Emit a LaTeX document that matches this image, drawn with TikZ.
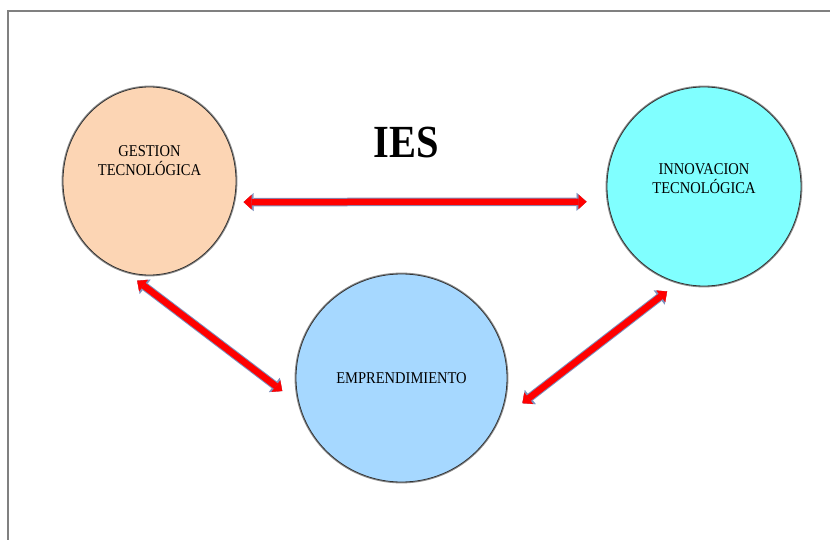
\documentclass[tikz,border=0pt]{standalone}
\usepackage{fontspec}
\setmainfont{Liberation Serif}[FakeStretch=0.88]
\usetikzlibrary{shapes.geometric,arrows.meta}
\definecolor{gestionfill}{RGB}{252,213,180}
\definecolor{innovacionfill}{RGB}{128,255,255}
\definecolor{emprefill}{RGB}{166,216,255}
\definecolor{arrowedge}{RGB}{125,145,190}
\definecolor{framegray}{RGB}{128,128,128}
\tikzset{
    ies circle/.style={
        ellipse,
        draw=black!80,
        line width=0.8pt,
        inner sep=0pt,
        preaction={draw=black!45, line width=2.8pt}
    },
    ies label/.style={font=\fontsize{16.5}{19}\selectfont, text=black, align=center},
    ies title/.style={font=\fontsize{46}{46}\selectfont\bfseries, text=black},
    ies arrow/.style={
        draw=red,
        line width=6.5pt,
        {Triangle[length=8pt,width=14.5pt,line width=0.2pt]}-{Triangle[length=8pt,width=14.5pt,line width=0.2pt]},
        preaction={draw=arrowedge, line width=8.5pt,
            {Triangle[length=10pt,width=18pt,line width=0.2pt]}-{Triangle[length=10pt,width=18pt,line width=0.2pt]}}
    }
}
\begin{document}
\begin{tikzpicture}[x=1pt, y=-1pt]

\useasboundingbox (0,0) rectangle (830,540);

% frame of the slide
\draw[framegray, line width=1.5pt] (8,540) -- (8,11) -- (830,11);

% the three circles
\node[ies circle, fill=gestionfill, minimum width=173pt, minimum height=188pt,
      label={[ies label, yshift=20pt]center:{GESTION\\TECNOLÓGICA}}] (gestion) at (149.5,181) {};
\node[ies circle, fill=innovacionfill, minimum width=194pt, minimum height=199pt,
      label={[ies label, yshift=7.5pt]center:{INNOVACION\\TECNOLÓGICA}}] (innovacion) at (704,186.5) {};
\node[ies circle, fill=emprefill, minimum width=211pt, minimum height=208pt,
      label={[ies label]center:EMPRENDIMIENTO}] (empre) at (401.5,378) {};

\node[ies title] (ies) at (406.5,142.5) {IES};

% double arrows between the circles
\draw[ies arrow, shorten <=9.4pt, shorten >=21.2pt] (gestion.-14.66) -- (innovacion.189.78);
\draw[ies arrow, shorten <=15pt, shorten >=20.8pt] (gestion.-105.85) -- (empre.194.62);
\draw[ies arrow, shorten <=31.8pt, shorten >=14pt] (empre.-25) -- (innovacion.-105.1);

\end{tikzpicture}
\end{document}
